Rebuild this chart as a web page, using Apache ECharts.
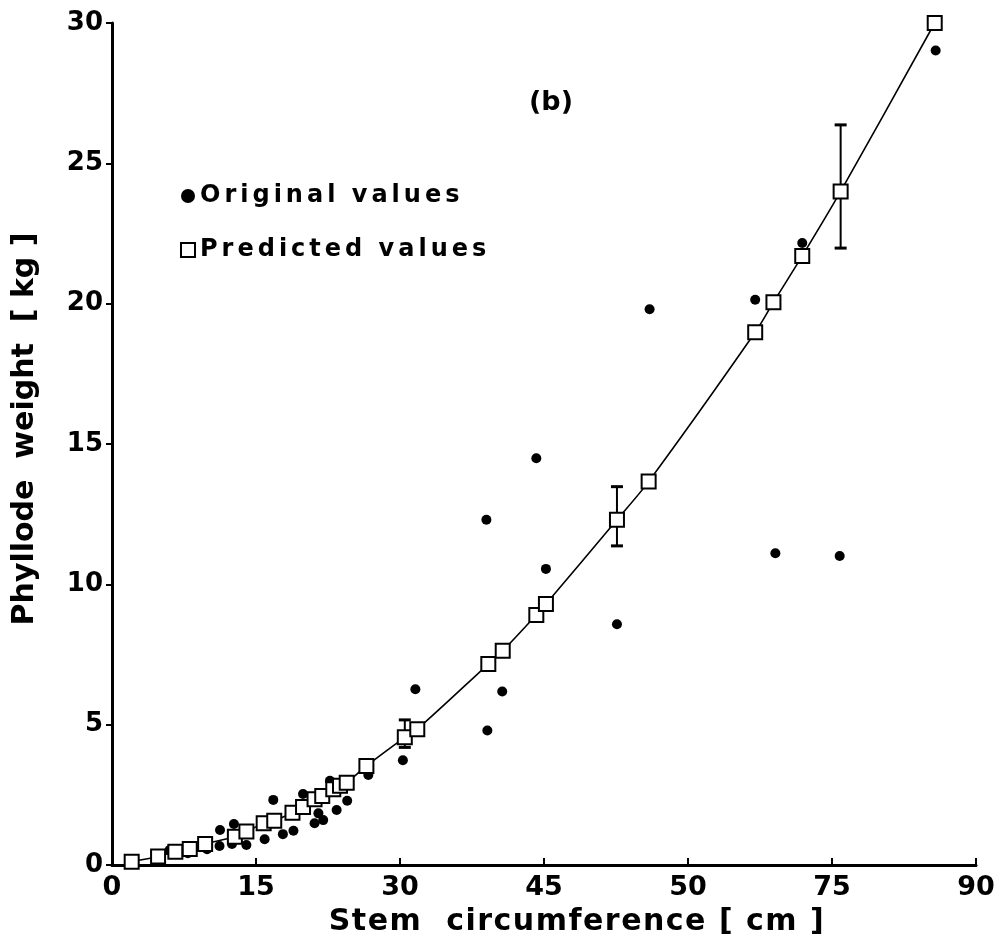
<!DOCTYPE html>
<html>
<head>
<meta charset="utf-8">
<script src="https://cdn.jsdelivr.net/npm/echarts@6/dist/echarts.min.js"></script>
<style>
  html, body { margin: 0; padding: 0; background: #fff; }
  #chart { width: 1001px; height: 944px; }
</style>
</head>
<body>
<div id="chart"></div>
<script>
// Stem circumference [cm] of the predicted points and their phyllode weight [kg]
const predX = [2.05, 4.8, 6.6, 8.1, 9.7, 12.8, 14.0, 15.8, 16.9, 18.8, 19.9, 21.1, 21.9, 23.05, 23.75, 24.45, 26.5,
               30.5, 31.8, 39.2, 40.7, 44.2, 45.2, 52.6, 55.9, 67.0, 68.9, 71.9, 75.9, 85.7];
const predY = [0.12, 0.30, 0.47, 0.57, 0.75, 1.01, 1.19, 1.49, 1.58, 1.86, 2.07, 2.34, 2.46, 2.70, 2.82, 2.93, 3.53,
               4.55, 4.84, 7.16, 7.63, 8.91, 9.30, 12.30, 13.66, 18.98, 20.05, 21.70, 24.0, 30.0];

// Measured (original) values
const origX = [2.05, 6.0, 7.9, 9.9, 11.2, 11.25, 12.5, 12.7, 14.0, 15.9, 16.8, 17.8, 18.9, 19.9, 21.1, 21.5, 22.0,
               22.7, 23.4, 24.5, 26.7, 30.3, 31.6, 39.0, 39.1, 40.65, 44.2, 45.2, 52.6, 56.0, 67.0, 69.1, 71.9, 75.8, 85.8];
const origY = [0.06, 0.53, 0.42, 0.56, 0.68, 1.25, 0.75, 1.46, 0.71, 0.92, 2.32, 1.10, 1.22, 2.53, 1.49, 1.84, 1.60,
               3.0, 1.96, 2.29, 3.21, 3.73, 6.26, 12.3, 4.79, 6.18, 14.49, 10.55, 8.58, 19.8, 20.14, 11.11, 22.16, 11.01, 29.02];

// Error bars on selected predictions
const errX = [30.5, 52.6, 75.9];
const errLow = [4.19, 11.37, 21.98];
const errHigh = [5.17, 13.48, 26.37];

// Axis tick labels (as printed)
const xTickLabels = ['0', '15', '30', '45', '50', '75', '90'];
const yTickLabels = ['0', '5', '10', '15', '20', '25', '30'];

const FONT = 'DejaVu Sans';

// Wrap each character in a rich-text token so the text can be letter-spaced
function spaced(text, key) {
  return text.split('').map(function (ch) { return '{' + key + '|' + ch + '}'; }).join('');
}

const chart = echarts.init(document.getElementById('chart'), null, { renderer: 'canvas' });

const option = {
  animation: false,
  backgroundColor: '#fff',
  title: {
    text: '(b)',
    left: 524,
    top: 84,
    textStyle: { fontFamily: FONT, fontWeight: 'bold', fontSize: 27, color: '#000' }
  },
  legend: {
    orient: 'vertical',
    left: 175,
    top: 179,
    itemWidth: 14,
    itemHeight: 14,
    itemGap: 30,
    selectedMode: false,
    formatter: function (name) { return spaced(name, 's'); },
    textStyle: {
      fontFamily: FONT, fontWeight: 'bold', fontSize: 24, color: '#000',
      rich: { s: { fontFamily: FONT, fontWeight: 'bold', fontSize: 24, color: '#000', padding: [0, 4, 0, 0] } }
    },
    data: [
      { name: 'Original values', icon: 'circle', itemStyle: { color: '#000', opacity: 1 } },
      { name: 'Predicted values', icon: 'rect', itemStyle: { color: '#fff', borderColor: '#000', borderWidth: 2 } }
    ]
  },
  grid: { left: 112, right: 25, top: 23, bottom: 79, containLabel: false },
  xAxis: {
    type: 'value',
    min: 0, max: 90, interval: 15,
    name: spaced('Stem  circumference [ cm ]', 't'),
    nameLocation: 'middle',
    nameGap: 42,
    nameTextStyle: {
      fontFamily: FONT, fontWeight: 'bold', fontSize: 30, color: '#000', padding: [0, 0, 0, 66],
      rich: { t: { fontFamily: FONT, fontWeight: 'bold', fontSize: 30, color: '#000', padding: [0, 1.5, 0, 0] } }
    },
    axisLine: { lineStyle: { color: '#000', width: 3 } },
    axisTick: { inside: true, length: 7, lineStyle: { color: '#000', width: 2 } },
    axisLabel: {
      margin: 9,
      fontFamily: FONT, fontWeight: 'bold', fontSize: 27, color: '#000',
      formatter: function (v) { return xTickLabels[Math.round(v / 15)]; }
    },
    splitLine: { show: false }
  },
  yAxis: {
    type: 'value',
    min: 0, max: 30, interval: 5,
    name: 'Phyllode  weight  [ kg ]',
    nameLocation: 'middle',
    nameGap: 72,
    nameTextStyle: { fontFamily: FONT, fontWeight: 'bold', fontSize: 30, color: '#000', padding: [0, 0, 0, 30] },
    axisLine: { show: true, lineStyle: { color: '#000', width: 3 } },
    axisTick: { show: true, inside: false, length: 6, lineStyle: { color: '#000', width: 2 } },
    axisLabel: {
      margin: 9,
      fontFamily: FONT, fontWeight: 'bold', fontSize: 26, color: '#000',
      formatter: function (v) { return yTickLabels[Math.round(v / 5)]; }
    },
    splitLine: { show: false }
  },
  series: [
    {
      name: 'Original values',
      type: 'scatter',
      symbol: 'circle',
      symbolSize: 10,
      itemStyle: { color: '#000', opacity: 1 },
      data: origX.map(function (x, i) { return [x, origY[i]]; }),
      z: 2
    },
    {
      name: 'Error',
      type: 'custom',
      data: errX.map(function (x, i) { return [x, errLow[i], errHigh[i]]; }),
      renderItem: function (params, api) {
        const top = api.coord([api.value(0), api.value(2)]);
        const bot = api.coord([api.value(0), api.value(1)]);
        const cap = 6;
        const st = { stroke: '#000', lineWidth: 2 };
        const capSt = { stroke: '#000', lineWidth: 3 };
        return {
          type: 'group',
          children: [
            { type: 'line', shape: { x1: top[0], y1: top[1], x2: bot[0], y2: bot[1] }, style: st },
            { type: 'line', shape: { x1: top[0] - cap, y1: top[1], x2: top[0] + cap, y2: top[1] }, style: capSt },
            { type: 'line', shape: { x1: bot[0] - cap, y1: bot[1], x2: bot[0] + cap, y2: bot[1] }, style: capSt }
          ]
        };
      },
      z: 3
    },
    {
      name: 'Predicted values',
      type: 'line',
      smooth: 0.3,
      symbol: 'rect',
      symbolSize: 14,
      showAllSymbol: true,
      lineStyle: { color: '#000', width: 1.6 },
      itemStyle: { color: '#fff', borderColor: '#000', borderWidth: 2 },
      data: predX.map(function (x, i) { return [x, predY[i]]; }),
      z: 4
    }
  ]
};

chart.setOption(option);
</script>
</body>
</html>
